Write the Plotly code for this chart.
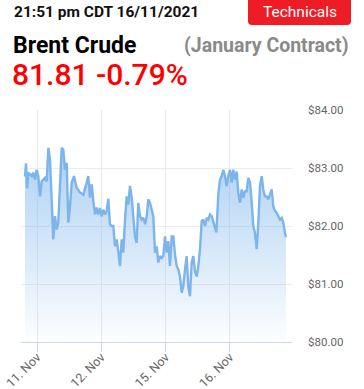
import plotly.graph_objects as go

# Time in trading days (0 = 11 Nov tick), price in USD
days = [-0.187, -0.171, -0.155, -0.135, -0.082, -0.058, -0.031, -0.005, 0.020, 0.047, 0.073, 0.124, 0.151,
        0.176, 0.202, 0.229, 0.253, 0.280, 0.306, 0.331, 0.358, 0.384, 0.409, 0.435, 0.462, 0.487, 0.513,
        0.540, 0.575, 0.617, 0.669, 0.720, 0.773, 0.798, 0.824, 0.851, 0.876, 0.902, 0.928, 0.953, 0.980,
        1.006, 1.031, 1.058, 1.084, 1.109, 1.135, 1.162, 1.187, 1.213, 1.240, 1.264, 1.291, 1.317, 1.342,
        1.369, 1.395, 1.420, 1.446, 1.473, 1.498, 1.524, 1.550, 1.575, 1.602, 1.628, 1.653, 1.680, 1.706,
        1.731, 1.757, 1.784, 1.809, 1.835, 1.862, 1.886, 1.913, 1.939, 1.964, 1.991, 2.017, 2.042, 2.068,
        2.095, 2.120, 2.146, 2.173, 2.197, 2.224, 2.250, 2.275, 2.302, 2.328, 2.353, 2.379, 2.406, 2.431,
        2.457, 2.484, 2.509, 2.535, 2.561, 2.586, 2.613, 2.639, 2.664, 2.690, 2.717, 2.742, 2.768, 2.790,
        2.820, 2.846, 2.873, 2.897, 2.924, 2.950, 2.975, 3.002, 3.028, 3.053, 3.079, 3.106, 3.131, 3.157,
        3.184, 3.208, 3.235, 3.261, 3.286, 3.313, 3.339, 3.364, 3.390, 3.417, 3.442, 3.468, 3.495, 3.519,
        3.546, 3.572, 3.597, 3.624, 3.650, 3.675, 3.701, 3.728, 3.753, 3.779, 3.806, 3.830, 3.857, 3.872]
prices = [82.85, 83.08, 82.65, 82.92, 82.86, 82.92, 82.80, 82.97, 82.86, 82.51, 82.77, 82.83, 82.77,
          83.35, 83.15, 82.46, 81.77, 82.17, 81.94, 82.06, 82.80, 83.35, 83.32, 82.97, 83.09, 82.06, 82.34,
          82.75, 82.86, 82.66, 82.58, 82.54, 82.75, 82.86, 82.49, 82.72, 82.43, 82.20, 82.32, 82.20, 82.31,
          82.17, 82.28, 82.20, 82.26, 82.47, 82.03, 82.00, 82.00, 81.65, 81.77, 81.51, 81.31, 81.77, 81.54,
          82.11, 82.51, 82.37, 82.69, 82.49, 82.17, 81.82, 81.71, 82.40, 82.17, 82.11, 82.14, 82.03, 82.17,
          82.46, 82.40, 82.29, 82.17, 81.54, 81.65, 81.37, 81.48, 81.45, 81.48, 81.82, 81.54, 81.74, 81.31,
          81.82, 81.82, 81.51, 81.31, 81.25, 81.13, 80.85, 80.96, 81.25, 81.48, 80.96, 80.79, 81.37, 81.48,
          81.22, 81.13, 81.31, 81.60, 82.08, 82.11, 82.00, 82.14, 82.11, 82.20, 82.17, 82.08, 81.95, 81.89,
          82.55, 82.80, 82.86, 82.97, 82.86, 82.69, 82.86, 82.97, 82.75, 82.97, 82.80, 82.94, 82.57, 82.40,
          82.63, 82.49, 82.60, 82.60, 82.83, 82.75, 82.40, 82.00, 81.88, 81.60, 82.06, 82.69, 82.86, 82.63,
          82.51, 82.51, 82.46, 82.54, 82.63, 82.34, 82.26, 82.23, 82.17, 82.11, 82.14, 82.06, 81.88, 81.81]

tick_vals = [0, 1, 2, 3]
tick_text = ["11. Nov", "12. Nov", "15. Nov", "16. Nov"]
y_ticks = [80, 81, 82, 83, 84]
y_labels = ["$80.00", "$81.00", "$82.00", "$83.00", "$84.00"]

timestamp = "21:51 pm CDT 16/11/2021"
name = "Brent Crude"
contract = "(January Contract)"
quote = "81.81 -0.79%"
button = "Technicals"

W, H = 364, 389
L, R, T, B = 21, 72, 110, 47
pw, ph = W - L - R, H - T - B


def px(x):
    return (x - L) / pw


def py(y):
    return (H - B - y) / ph


fig = go.Figure()
fig.add_trace(go.Scatter(
    x=days, y=prices, mode="lines",
    line=dict(color="#7cb5ec", width=2.4),
    fill="tozeroy",
    fillgradient=dict(type="vertical", start=80, stop=84,
                      colorscale=[[0, "rgba(124,181,236,0.02)"], [1, "rgba(124,181,236,0.75)"]]),
    hoverinfo="skip", showlegend=False,
))

# rounded button path in paper coords
bx0, bx1, by0, by1, r = 248, 351, -4, 25, 4
path = (f"M {px(bx0 + r)} {py(by0)} L {px(bx1 - r)} {py(by0)} "
        f"Q {px(bx1)} {py(by0)} {px(bx1)} {py(by0 + r)} L {px(bx1)} {py(by1 - r)} "
        f"Q {px(bx1)} {py(by1)} {px(bx1 - r)} {py(by1)} L {px(bx0 + r)} {py(by1)} "
        f"Q {px(bx0)} {py(by1)} {px(bx0)} {py(by1 - r)} L {px(bx0)} {py(by0 + r)} "
        f"Q {px(bx0)} {py(by0)} {px(bx0 + r)} {py(by0)} Z")
fig.add_shape(type="path", path=path, xref="paper", yref="paper",
              fillcolor="#ee1c25", line=dict(width=0), layer="above")

F = "Roboto"
fig.add_annotation(text=f"<b>{timestamp}</b>", x=px(11.5), y=py(12), xref="paper", yref="paper",
                   xanchor="left", yanchor="middle", showarrow=False,
                   font=dict(family=F, size=15.5, color="#111111"))
fig.add_annotation(text=button, x=px(300), y=py(12), xref="paper", yref="paper",
                   xanchor="center", yanchor="middle", showarrow=False,
                   font=dict(family=F, size=15.5, color="#ffffff"))
fig.add_annotation(text=f"<b>{name}</b>", x=px(11), y=py(46), xref="paper", yref="paper",
                   xanchor="left", yanchor="middle", showarrow=False,
                   font=dict(family=F, size=23, color="#000000"))
fig.add_annotation(text=f"<b>{contract}</b>", x=px(351), y=py(45), xref="paper", yref="paper",
                   xanchor="right", yanchor="middle", showarrow=False,
                   font=dict(family=F, size=19.5, color="#8a8a8a"))
fig.add_annotation(text=quote, x=px(10), y=py(74), xref="paper", yref="paper",
                   xanchor="left", yanchor="middle", showarrow=False,
                   font=dict(family=F, size=30, color="#ff0000", weight=500))

fig.update_layout(
    width=W, height=H,
    margin=dict(l=L, r=R, t=T, b=B, pad=0, autoexpand=False),
    paper_bgcolor="#ffffff", plot_bgcolor="#ffffff",
    font=dict(family=F, color="#666666", size=11),
    hovermode=False,
    xaxis=dict(range=[-0.249, 3.966], tickvals=tick_vals, ticktext=tick_text, tickangle=-45,
               showgrid=True, gridcolor="#ececec", gridwidth=1, automargin=False,
               showline=True, linecolor="#ccd6eb", linewidth=1,
               ticks="outside", ticklen=9, tickcolor="#ccd6eb", ticklabelstandoff=-7,
               tickfont=dict(family=F, size=12.5, color="#666666"), zeroline=False, fixedrange=True),
    yaxis=dict(range=[80, 84], tickvals=y_ticks, ticktext=y_labels, side="right",
               showgrid=True, gridcolor="#ececec", gridwidth=1, zeroline=False, automargin=False,
               ticks="", ticklabelstandoff=15,
               tickfont=dict(family=F, size=11.5, color="#666666"), fixedrange=True),
)

fig.write_html("out.html", config={"displayModeBar": False},
               post_script="document.body.style.margin='0px';document.body.style.overflow='hidden';")
